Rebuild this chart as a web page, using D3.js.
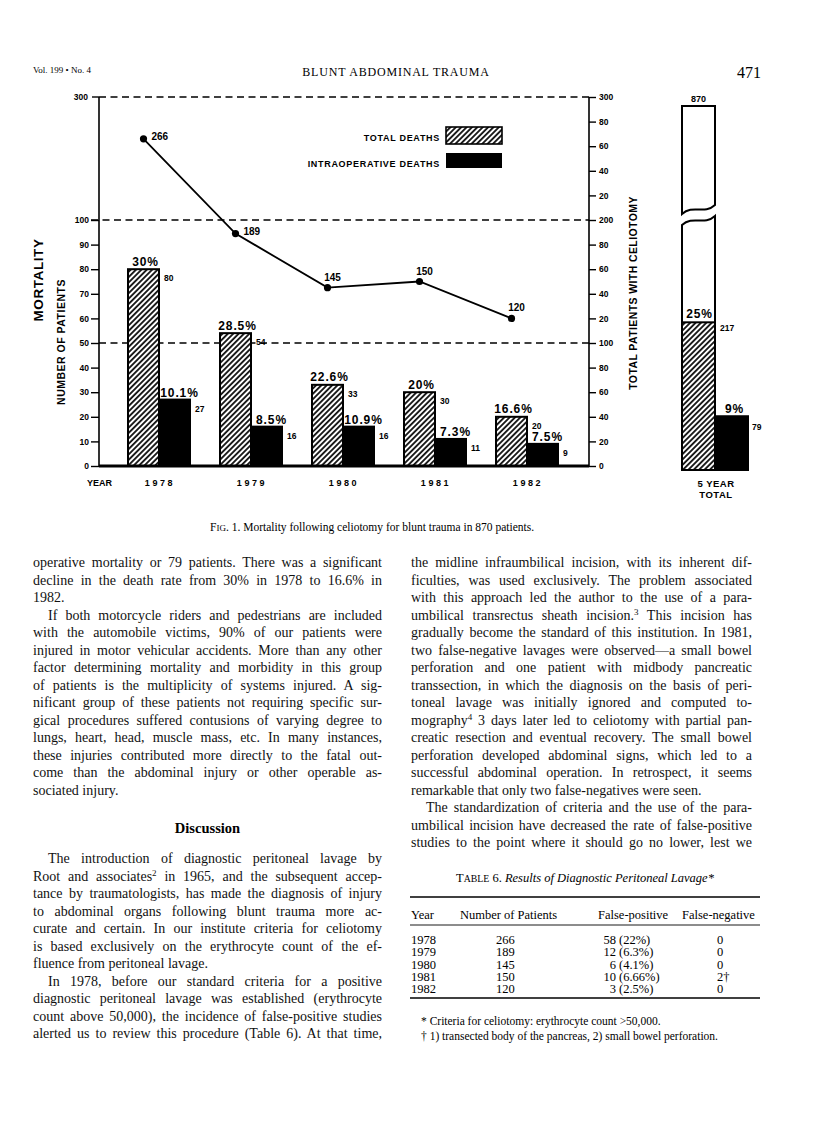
<!DOCTYPE html>
<html><head><meta charset="utf-8">
<script src="https://cdn.jsdelivr.net/npm/d3@7"></script>
<style>
html,body{margin:0;padding:0;background:#fff;}
svg{display:block}
</style></head><body>
<svg id="page" width="816" height="1133"></svg>
<script>
// ---------- DATA ----------
const years = ["1978","1979","1980","1981","1982"];
const totalDeaths = [80,54,33,30,20];
const intraopDeaths = [27,16,16,11,9];
const totalPct = ["30%","28.5%","22.6%","20%","16.6%"];
const intraopPct = ["10.1%","8.5%","10.9%","7.3%","7.5%"];
const patientsWithCeliotomy = [266,189,145,150,120];
const leftTicks = [0,10,20,30,40,50,60,70,80,90,100];
const leftTopLabel = "300";
const rightTicks = [0,20,40,60,80,100,120,140,160,180,200,220,240,260,280,300];
const rightTickLabels = ["0","20","40","60","80","100","20","40","60","80","200","20","40","60","80","300"];
const dashedLevels = [300,200,100];
const fiveYearPatients = 870;
const fiveYearDeaths = 217;
const fiveYearIntraop = 79;
const fiveYearDeathsPct = "25%";
const fiveYearIntraopPct = "9%";

const tableYears = ["1978","1979","1980","1981","1982"];
const tablePatients = ["266","189","145","150","120"];
const tableFalsePosCount = ["58","12","6","10","3"];
const tableFalsePosPct = ["(22%)","(6.3%)","(4.1%)","(6.66%)","(2.5%)"];
const tableFalseNeg = ["0","0","0","2†","0"];
const tableHeaders = ["Year","Number of Patients","False-positive","False-negative"];

const leftCol = [
"operative mortality or 79 patients. There was a significant",
"decline in the death rate from 30% in 1978 to 16.6% in",
"1982.|",
">If both motorcycle riders and pedestrians are included",
"with the automobile victims, 90% of our patients were",
"injured in motor vehicular accidents. More than any other",
"factor determining mortality and morbidity in this group",
"of patients is the multiplicity of systems injured. A sig-",
"nificant group of these patients not requiring specific sur-",
"gical procedures suffered contusions of varying degree to",
"lungs, heart, head, muscle mass, etc. In many instances,",
"these injuries contributed more directly to the fatal out-",
"come than the abdominal injury or other operable as-",
"sociated injury.|",
">The introduction of diagnostic peritoneal lavage by",
"Root and associates^2 in 1965, and the subsequent accep-",
"tance by traumatologists, has made the diagnosis of injury",
"to abdominal organs following blunt trauma more ac-",
"curate and certain. In our institute criteria for celiotomy",
"is based exclusively on the erythrocyte count of the ef-",
"fluence from peritoneal lavage.|",
">In 1978, before our standard criteria for a positive",
"diagnostic peritoneal lavage was established (erythrocyte",
"count above 50,000), the incidence of false-positive studies",
"alerted us to review this procedure (Table 6). At that time,"
];
const rightCol = [
"the midline infraumbilical incision, with its inherent dif-",
"ficulties, was used exclusively. The problem associated",
"with this approach led the author to the use of a para-",
"umbilical transrectus sheath incision.^3 This incision has",
"gradually become the standard of this institution. In 1981,",
"two false-negative lavages were observed—a small bowel",
"perforation and one patient with midbody pancreatic",
"transsection, in which the diagnosis on the basis of peri-",
"toneal lavage was initially ignored and computed to-",
"mography^4 3 days later led to celiotomy with partial pan-",
"creatic resection and eventual recovery. The small bowel",
"perforation developed abdominal signs, which led to a",
"successful abdominal operation. In retrospect, it seems",
"remarkable that only two false-negatives were seen.|",
">The standardization of criteria and the use of the para-",
"umbilical incision have decreased the rate of false-positive",
"studies to the point where it should go no lower, lest we"
];

// ---------- SETUP ----------
const SANS = "'Liberation Sans', Arial, Helvetica, sans-serif";
const SERIF = "'Liberation Serif', 'Times New Roman', serif";
const svg = d3.select("#page");
svg.append("rect").attr("width",816).attr("height",1133).attr("fill","#fff");
const defs = svg.append("defs");
function hatch(id){
  const p = defs.append("pattern").attr("id",id).attr("patternUnits","userSpaceOnUse")
    .attr("width",3.8).attr("height",3.8).attr("patternTransform","rotate(45)");
  p.append("rect").attr("width",3.8).attr("height",3.8).attr("fill","#fff");
  p.append("line").attr("x1",1.9).attr("x2",1.9).attr("y1",0).attr("y2",3.8)
    .attr("stroke","#000").attr("stroke-width",1.7);
}
hatch("hatch");

function sans(sel, size){
  return sel.attr("font-family",SANS).attr("font-weight","bold").attr("font-size",size).attr("fill","#000");
}

// ---------- HEADER ----------
svg.append("text").attr("x",33).attr("y",73).attr("font-family",SERIF).attr("font-size",9).text("Vol. 199 • No. 4");
svg.append("text").attr("x",396).attr("y",76).attr("text-anchor","middle").attr("font-family",SERIF)
  .attr("font-size",12).attr("letter-spacing",0.8).text("BLUNT  ABDOMINAL  TRAUMA");
svg.append("text").attr("x",761).attr("y",78).attr("text-anchor","end").attr("font-family",SERIF)
  .attr("font-size",16).text("471");

// ---------- CHART ----------
const X0 = 99, X1 = 589, Y0 = 466, YTOP = 97;
const yLeft = d3.scaleLinear().domain([0,100]).range([Y0, 220]);
const yRight = d3.scaleLinear().domain([0,300]).range([Y0, YTOP]);
const xMid = d3.scalePoint().domain(years).range([159, 527]);
const barW = 31;
const chart = svg.append("g");

// dashed reference lines
chart.selectAll("line.dash").data(dashedLevels).join("line").attr("class","dash")
  .attr("x1",(d)=> d===200 ? 91 : X0).attr("x2",X1)
  .attr("y1",d=>yRight(d)).attr("y2",d=>yRight(d))
  .attr("stroke","#000").attr("stroke-width",1.3).attr("stroke-dasharray","7,4.5");

// left axis
const gL = chart.append("g").attr("transform",`translate(${X0},0)`)
  .call(d3.axisLeft(yLeft).tickValues(leftTicks).tickSize(8).tickPadding(2));
gL.select(".domain").remove();
gL.attr("font-family",SANS).attr("font-weight","bold").attr("font-size",8.5);
gL.selectAll("line").attr("stroke-width",1.4);
gL.selectAll("text").attr("fill","#000");
const topTick = chart.append("g").attr("transform",`translate(${X0},${yRight(300)})`);
topTick.append("line").attr("x1",-7).attr("x2",0).attr("stroke","#000").attr("stroke-width",1.4);
sans(topTick.append("text"),8.5).attr("x",-11).attr("dy","0.32em").attr("text-anchor","end").text(leftTopLabel);
chart.append("line").attr("x1",X0).attr("x2",X0).attr("y1",Y0).attr("y2",YTOP)
  .attr("stroke","#000").attr("stroke-width",1.6);

// right axis
const gR = chart.append("g").attr("transform",`translate(${X1},0)`)
  .call(d3.axisRight(yRight).tickValues(rightTicks).tickFormat((d,i)=>rightTickLabels[i]).tickSize(7).tickPadding(3));
gR.select(".domain").remove();
gR.attr("font-family",SANS).attr("font-weight","bold").attr("font-size",8.5);
gR.selectAll("line").attr("stroke-width",1.4);
gR.selectAll("text").attr("fill","#000");
chart.append("line").attr("x1",X1).attr("x2",X1).attr("y1",Y0).attr("y2",YTOP)
  .attr("stroke","#000").attr("stroke-width",1.6);

// bars
const rows = years.map((y,i)=>({y, t:totalDeaths[i], d:intraopDeaths[i], tp:totalPct[i], dp:intraopPct[i], p:patientsWithCeliotomy[i]}));
chart.selectAll("rect.tot").data(rows).join("rect").attr("class","tot")
  .attr("x",d=>xMid(d.y)-barW).attr("width",barW)
  .attr("y",d=>yLeft(d.t)).attr("height",d=>Y0-yLeft(d.t))
  .attr("fill","url(#hatch)").attr("stroke","#000").attr("stroke-width",2);
chart.selectAll("rect.intra").data(rows).join("rect").attr("class","intra")
  .attr("x",d=>xMid(d.y)).attr("width",barW)
  .attr("y",d=>yLeft(d.d)).attr("height",d=>Y0-yLeft(d.d))
  .attr("fill","#000").attr("stroke","#000").attr("stroke-width",2);
chart.append("line").attr("x1",X0).attr("x2",X1).attr("y1",Y0).attr("y2",Y0)
  .attr("stroke","#000").attr("stroke-width",3);

// bar labels
chart.selectAll("text.tp").data(rows).join("text").attr("class","tp")
  .call(s=>sans(s,12)).attr("letter-spacing",0.9).attr("text-anchor","middle")
  .attr("x",d=>xMid(d.y)-barW/2+2).attr("y",d=>yLeft(d.t)-3.5).text(d=>d.tp);
chart.selectAll("text.dp").data(rows).join("text").attr("class","dp")
  .call(s=>sans(s,12)).attr("letter-spacing",0.9).attr("text-anchor","middle")
  .attr("x",d=>xMid(d.y)+barW/2+5).attr("y",d=>yLeft(d.d)-3).text(d=>d.dp);
chart.selectAll("text.tn").data(rows).join("text").attr("class","tn")
  .call(s=>sans(s,8.5)).attr("x",d=>xMid(d.y)+5).attr("y",d=>yLeft(d.t)+12).text(d=>d.t);
chart.selectAll("text.dn").data(rows).join("text").attr("class","dn")
  .call(s=>sans(s,8.5)).attr("x",d=>xMid(d.y)+barW+5).attr("y",d=>yLeft(d.d)+12).text(d=>d.d);

// line of total patients
const lx = d=>xMid(d.y)-barW/2;
chart.append("path").datum(rows)
  .attr("d", d3.line().x(lx).y(d=>yRight(d.p)))
  .attr("fill","none").attr("stroke","#000").attr("stroke-width",1.8);
chart.selectAll("circle.pt").data(rows).join("circle").attr("class","pt")
  .attr("cx",lx).attr("cy",d=>yRight(d.p)).attr("r",3.6).attr("fill","#000");
chart.selectAll("text.pl").data(rows).join("text").attr("class","pl")
  .call(s=>sans(s,10))
  .attr("text-anchor",(d,i)=> i<2 ? "start" : "middle")
  .attr("x",(d,i)=> i<2 ? lx(d)+8 : lx(d)+5)
  .attr("y",(d,i)=> i<2 ? yRight(d.p)+1 : yRight(d.p)-7)
  .text(d=>d.p);

// x labels
sans(chart.append("text"),9).attr("x",87).attr("y",486).text("YEAR");
chart.selectAll("text.yr").data(rows).join("text").attr("class","yr")
  .call(s=>sans(s,9)).attr("letter-spacing",2.6).attr("text-anchor","middle")
  .attr("x",d=>xMid(d.y)+1).attr("y",486).text(d=>d.y);

// axis titles
sans(chart.append("text"),13.5).attr("text-anchor","middle").attr("letter-spacing",0.6)
  .attr("transform","translate(43,280) rotate(-90)").text("MORTALITY");
sans(chart.append("text"),10.5).attr("text-anchor","middle").attr("letter-spacing",0.5)
  .attr("transform","translate(65,342) rotate(-90)").text("NUMBER OF PATIENTS");
sans(chart.append("text"),10.5).attr("text-anchor","middle").attr("letter-spacing",0.4)
  .attr("transform","translate(637,293) rotate(-90)").text("TOTAL PATIENTS WITH CELIOTOMY");

// legend
const leg = chart.append("g");
sans(leg.append("text"),9).attr("letter-spacing",0.7).attr("text-anchor","end").attr("x",440).attr("y",140.5).text("TOTAL DEATHS");
leg.append("rect").attr("x",446).attr("y",127).attr("width",56).attr("height",17)
  .attr("fill","url(#hatch)").attr("stroke","#000").attr("stroke-width",1.6);
sans(leg.append("text"),9).attr("letter-spacing",0.7).attr("text-anchor","end").attr("x",440).attr("y",166.5).text("INTRAOPERATIVE DEATHS");
leg.append("rect").attr("x",446).attr("y",153).attr("width",56).attr("height",15).attr("fill","#000");

// ---------- 5 YEAR TOTAL ----------
const T0 = 470, BX = 682, BW = 33;
const yTot = d3.scaleLinear().domain([0,360]).range([T0, 225]);
const yTop = d3.scaleLinear().domain([360, fiveYearPatients]).range([214, 106]);
const tot = svg.append("g");
function wave(x0,x1,yl,yr){ return `C${x0+11},${yl-10} ${x0+22},${yr+10} ${x1},${yr}`; }
tot.append("path")
  .attr("d",`M${BX},${yTop(360)} ${wave(BX,BX+BW,yTop(360),yTop(360)-9)} L${BX+BW},${yTop(fiveYearPatients)} L${BX},${yTop(fiveYearPatients)} Z`)
  .attr("fill","#fff").attr("stroke","#000").attr("stroke-width",2);
tot.append("path")
  .attr("d",`M${BX},${T0} L${BX},${yTot(360)} ${wave(BX,BX+BW,yTot(360),yTot(360)-9)} L${BX+BW},${T0} Z`)
  .attr("fill","#fff").attr("stroke","#000").attr("stroke-width",2);
tot.append("rect").attr("x",BX).attr("width",BW).attr("y",yTot(fiveYearDeaths)).attr("height",T0-yTot(fiveYearDeaths))
  .attr("fill","url(#hatch)").attr("stroke","#000").attr("stroke-width",2);
tot.append("rect").attr("x",BX+BW).attr("width",BW).attr("y",yTot(fiveYearIntraop)).attr("height",T0-yTot(fiveYearIntraop))
  .attr("fill","#000").attr("stroke","#000").attr("stroke-width",2);
sans(tot.append("text"),9).attr("text-anchor","middle").attr("x",BX+BW/2).attr("y",yTop(fiveYearPatients)-4).text(fiveYearPatients);
sans(tot.append("text"),12).attr("letter-spacing",0.9).attr("text-anchor","middle").attr("x",BX+BW/2+1).attr("y",yTot(fiveYearDeaths)-4).text(fiveYearDeathsPct);
sans(tot.append("text"),8.5).attr("x",BX+BW+5).attr("y",yTot(fiveYearDeaths)+9).text(fiveYearDeaths);
sans(tot.append("text"),12).attr("letter-spacing",0.9).attr("text-anchor","middle").attr("x",BX+BW+BW/2+3).attr("y",yTot(fiveYearIntraop)-3).text(fiveYearIntraopPct);
sans(tot.append("text"),8.5).attr("x",BX+2*BW+4).attr("y",yTot(fiveYearIntraop)+14).text(fiveYearIntraop);
sans(tot.append("text"),9.5).attr("letter-spacing",0.5).attr("text-anchor","middle").attr("x",BX+BW+1).attr("y",487).text("5 YEAR");
sans(tot.append("text"),9.5).attr("letter-spacing",0.5).attr("text-anchor","middle").attr("x",BX+BW+1).attr("y",498).text("TOTAL");

// caption
const cap = svg.append("text").attr("x",210).attr("y",531).attr("font-family",SERIF).attr("font-size",11.5);
cap.append("tspan").text("F");
cap.append("tspan").attr("font-size",9).text("IG");
cap.append("tspan").text(". 1. Mortality following celiotomy for blunt trauma in 870 patients.");

// ---------- BODY TEXT ----------
const FS = 14, LH = 17.5;
function drawLine(raw, x, w, y){
  let indent = 0, justify = true, s = raw;
  if (s.startsWith(">")) { indent = 15; s = s.slice(1); }
  if (s.endsWith("|")) { justify = false; s = s.slice(0,-1); }
  const t = svg.append("text").attr("x",x+indent).attr("y",y).attr("font-family",SERIF)
    .attr("font-size",FS).attr("fill","#111");
  const parts = s.split(/\^(\d)/);
  parts.forEach((p,i)=>{
    if (i%2===0){ if(p) t.append("tspan").attr("dy", i>0 ? 5 : 0).text(p); }
    else t.append("tspan").attr("font-size",9).attr("dy",-5).text(p);
  });
  if (justify){
    const nat = t.node().getComputedTextLength();
    const spaces = (s.match(/ /g)||[]).length;
    if (spaces>0) t.attr("word-spacing", (w-indent-nat)/spaces);
  }
}
const LX = 33, LW = 349, RX = 411, RW = 341;
leftCol.forEach((ln,i)=>{
  const y = i<14 ? 567 + i*LH : 863 + (i-14)*LH;
  drawLine(ln, LX, LW, y);
});
svg.append("text").attr("x",LX+LW/2).attr("y",833).attr("text-anchor","middle").attr("font-family",SERIF)
  .attr("font-weight","bold").attr("font-size",14.5).text("Discussion");
rightCol.forEach((ln,i)=> drawLine(ln, RX, RW, 567 + i*LH));

// ---------- TABLE ----------
const TX0 = 410, TX1 = 760;
const TFS = 12.5;
const ttl = svg.append("text").attr("x",(TX0+TX1)/2).attr("y",882).attr("text-anchor","middle")
  .attr("font-family",SERIF).attr("font-size",TFS);
ttl.append("tspan").text("T");
ttl.append("tspan").attr("font-size",9.8).text("ABLE");
ttl.append("tspan").text(" 6. ");
ttl.append("tspan").attr("font-style","italic").text("Results of Diagnostic Peritoneal Lavage*");
[[897,1.3],[925,0.9],[998,1.3]].forEach(([y,w])=>{
  svg.append("line").attr("x1",TX0).attr("x2",TX1).attr("y1",y).attr("y2",y).attr("stroke","#000").attr("stroke-width",w);
});
const hx = [411,460,598,682];
tableHeaders.forEach((h,i)=>{
  svg.append("text").attr("x",hx[i]).attr("y",919).attr("font-family",SERIF).attr("font-size",TFS).text(h);
});
const rowY = d3.scalePoint().domain(tableYears).range([944, 993]);
tableYears.forEach((yr,i)=>{
  const y = rowY(yr);
  const g = svg.append("g").attr("font-family",SERIF).attr("font-size",TFS);
  g.append("text").attr("x",411).attr("y",y).text(yr);
  g.append("text").attr("x",496).attr("y",y).text(tablePatients[i]);
  g.append("text").attr("x",616).attr("y",y).attr("text-anchor","end").text(tableFalsePosCount[i]);
  g.append("text").attr("x",619).attr("y",y).text(tableFalsePosPct[i]);
  g.append("text").attr("x",717).attr("y",y).text(tableFalseNeg[i]);
});
svg.append("text").attr("x",421).attr("y",1025).attr("font-family",SERIF).attr("font-size",11.5)
  .text("* Criteria for celiotomy: erythrocyte count >50,000.");
svg.append("text").attr("x",421).attr("y",1040).attr("font-family",SERIF).attr("font-size",11.5)
  .text("† 1) transected body of the pancreas, 2) small bowel perforation.");
</script>
</body></html>
